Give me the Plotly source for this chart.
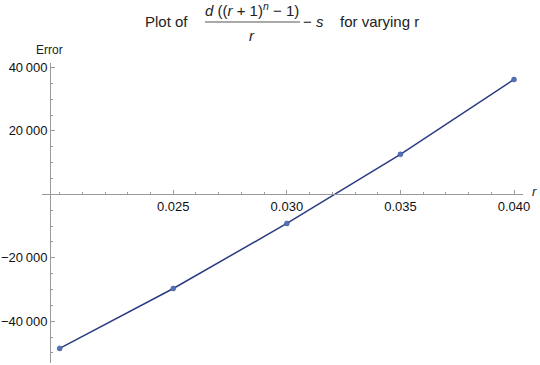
import plotly.graph_objects as go

# Data
r_values = [0.020, 0.025, 0.030, 0.035, 0.040]
error_values = [-48600, -29700, -9200, 12600, 36200]

x_tick_vals = [0.025, 0.030, 0.035, 0.040]
x_tick_text = ["0.025", "0.030", "0.035", "0.040"]
y_tick_vals = [-40000, -20000, 20000, 40000]
y_tick_text = ["\u221240\u2009000", "\u221220\u2009000", "20\u2009000", "40\u2009000"]

W, H = 540, 365
ML, MR, MT, MB = 42, 17, 63, 2
PW, PH = W - ML - MR, H - MT - MB

x_range = [0.019221, 0.040396]
y_range = [-53200, 41400]

def px(x):
    return (x - ML) / PW

def py(y):
    return (H - MB - y) / PH

FONT = "Liberation Sans, Arial, sans-serif"
AXIS_COLOR = "#9a9a9a"

fig = go.Figure()
fig.add_trace(go.Scatter(
    x=r_values, y=error_values, mode="lines+markers",
    line=dict(color="#2b3b80", width=1.5),
    marker=dict(color="#5272b4", size=5, line=dict(color="#3a5398", width=0.5)),
    showlegend=False, cliponaxis=False,
))

y_axis_pos = (0.019573 - x_range[0]) / (x_range[1] - x_range[0])
x_axis_pos = (0 - y_range[0]) / (y_range[1] - y_range[0])

fig.update_layout(
    width=W, height=H,
    margin=dict(l=ML, r=MR, t=MT, b=MB, pad=0),
    paper_bgcolor="white", plot_bgcolor="white",
    font=dict(family=FONT, size=13, color="#111"),
    xaxis=dict(
        range=x_range, anchor="free", position=x_axis_pos,
        showgrid=False, zeroline=False, showline=True,
        linecolor=AXIS_COLOR, linewidth=1,
        tickmode="array", tickvals=x_tick_vals, ticktext=x_tick_text,
        ticks="inside", ticklen=4, tickcolor=AXIS_COLOR, tickwidth=1,
        minor=dict(ticks="inside", tick0=0, dtick=0.001, ticklen=2.5,
                   tickcolor=AXIS_COLOR, showgrid=False),
        tickfont=dict(size=13, color="#111"),
    ),
    yaxis=dict(
        range=y_range, anchor="free", position=y_axis_pos,
        showgrid=False, zeroline=False, showline=True,
        linecolor=AXIS_COLOR, linewidth=1,
        tickmode="array", tickvals=y_tick_vals, ticktext=y_tick_text,
        ticks="inside", ticklen=4, tickcolor=AXIS_COLOR, tickwidth=1,
        minor=dict(ticks="inside", tick0=0, dtick=5000, ticklen=2.5,
                   tickcolor=AXIS_COLOR, showgrid=False),
        tickfont=dict(size=13, color="#111"),
    ),
)

# extend x axis line slightly left of the y axis (Mathematica style)
ann = []
def text(x, y, s, size=15, color="#222", xanchor="center"):
    ann.append(dict(x=px(x), y=py(y), xref="paper", yref="paper", text=s,
                    showarrow=False, xanchor=xanchor, yanchor="middle",
                    font=dict(family=FONT, size=size, color=color)))

# title pieces
text(166.5, 21, "Plot of")
text(252, 9, "<i>d</i> ((<i>r</i> + 1)<sup><i>n</i></sup> \u2212 1)")
text(252, 35, "<i>r</i>")
text(313, 21, "\u2212 <i>s</i>")
text(379, 21, "for varying r")
# axis labels
text(49, 50, "Error", size=12, color="#222")
text(534, 191, "<i>r</i>", size=13, color="#222")

fig.update_layout(annotations=ann)
fig.add_shape(type="line", xref="paper", yref="paper",
              x0=px(205), x1=px(300), y0=py(22), y1=py(22),
              line=dict(color="#555", width=1))

fig.write_html("out.html")
